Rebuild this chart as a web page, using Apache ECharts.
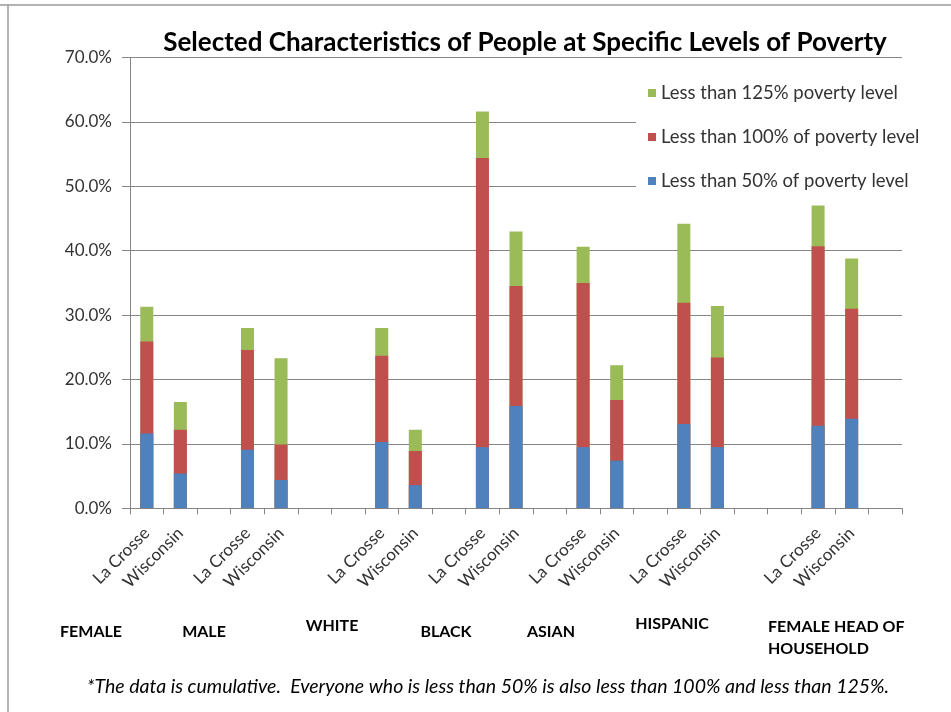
<!DOCTYPE html>
<html>
<head>
<meta charset="utf-8">
<title>Selected Characteristics of People at Specific Levels of Poverty</title>
<script src="https://cdn.jsdelivr.net/npm/echarts@6/dist/echarts.min.js"></script>
<style>
  html, body { margin: 0; padding: 0; background: #fff; }
  #chart { width: 951px; height: 712px; }
</style>
</head>
<body>
<div id="chart"></div>
<script>
// Population groups, each shown for La Crosse and for Wisconsin
const groups = ['FEMALE', 'MALE', 'WHITE', 'BLACK', 'ASIAN', 'HISPANIC', 'FEMALE HEAD OF\nHOUSEHOLD'];
const places = ['La Crosse', 'Wisconsin'];

// Cumulative shares (%) per bar, in order: group by group, La Crosse then Wisconsin
const under50  = [11.6, 5.4, 9.1, 4.4, 10.3, 3.6, 9.5, 15.9, 9.5, 7.4, 13.1, 9.5, 12.8, 13.9];
const under100 = [25.9, 12.2, 24.6, 9.9, 23.7, 8.9, 54.4, 34.5, 35.0, 16.8, 31.9, 23.4, 40.7, 31.0];
const under125 = [31.3, 16.5, 28.0, 23.3, 28.0, 12.2, 61.6, 43.0, 40.6, 22.2, 44.2, 31.4, 47.0, 38.8];

const seriesNames = [
  'Less than 125% poverty level',
  'Less than 100% of poverty level',
  'Less than 50% of poverty level'
];

// Y axis ticks
const yTicks = [0, 10, 20, 30, 40, 50, 60, 70];

// Empty category slots after each group (spacing on the axis)
const emptySlotsAfter = [1, 2, 1, 1, 1, 2, 1];

// Build the category axis with blank spacer slots
const axisCats = [];
const slotIndex = [];
groups.forEach((g, gi) => {
  places.forEach(p => { slotIndex.push(axisCats.length); axisCats.push(p); });
  for (let k = 0; k < emptySlotsAfter[gi]; k++) axisCats.push('');
});
function spread(values) {
  const out = axisCats.map(() => null);
  values.forEach((v, i) => { out[slotIndex[i]] = v; });
  return out;
}

const FONT = 'Lato, "Open Sans", sans-serif';
const colors = ['#9BBB59', '#C0504D', '#4F81BD'];
const valueSets = [under125, under100, under50];

const chart = echarts.init(document.getElementById('chart'), null, { renderer: 'canvas' });

chart.setOption({
  animation: false,
  backgroundColor: '#ffffff',
  title: {
    text: 'Selected Characteristics of People at Specific Levels of Poverty',
    left: 520,
    top: 25,
    textAlign: 'center',
    textStyle: { fontFamily: FONT, fontSize: 26, fontWeight: 'bold', color: '#000' }
  },
  legend: {
    orient: 'vertical',
    left: 636,
    top: 76,
    padding: [7, 12, 8, 12],
    backgroundColor: '#ffffff',
    itemWidth: 8,
    itemHeight: 8,
    itemGap: 24,
    icon: 'rect',
    data: seriesNames,
    textStyle: { fontFamily: FONT, fontSize: 18.5, color: '#333', lineHeight: 20 }
  },
  grid: { left: 130, right: 49, top: 57.5, bottom: 203.7, containLabel: false },
  xAxis: {
    type: 'category',
    data: axisCats,
    axisLine: { lineStyle: { color: '#868686' } },
    axisTick: { show: true, interval: 0, length: 6, lineStyle: { color: '#868686' } },
    axisLabel: {
      interval: 0, rotate: 45, margin: 22,
      fontFamily: FONT, fontSize: 17, color: '#333'
    }
  },
  yAxis: {
    type: 'value',
    min: yTicks[0],
    max: yTicks[yTicks.length - 1],
    interval: 10,
    axisLine: { show: true, lineStyle: { color: '#868686' } },
    axisTick: { show: true, length: 8, lineStyle: { color: '#868686' } },
    splitLine: { lineStyle: { color: '#868686' } },
    axisLabel: {
      margin: 18,
      formatter: v => v.toFixed(1) + '%',
      fontFamily: FONT, fontSize: 17, color: '#333'
    }
  },
  series: seriesNames.map((name, i) => ({
    name,
    type: 'bar',
    barWidth: 13,
    barGap: '-100%',
    itemStyle: { color: colors[i] },
    data: spread(valueSets[i])
  })),
  graphic: [
    // frame lines
    { type: 'line', shape: { x1: 0, y1: 5, x2: 951, y2: 5 }, style: { stroke: '#9a9a9a', lineWidth: 1.5 } },
    { type: 'line', shape: { x1: 8, y1: 5, x2: 8, y2: 712 }, style: { stroke: '#9a9a9a', lineWidth: 1.5 } },
    // group labels
    ...[
      { i: 0, x: 91, y: 632 },
      { i: 1, x: 204, y: 632 },
      { i: 2, x: 332, y: 626 },
      { i: 3, x: 446, y: 632 },
      { i: 4, x: 551, y: 632 },
      { i: 5, x: 672, y: 624 }
    ].map(o => ({
      type: 'text', x: o.x, y: o.y,
      style: {
        text: groups[o.i], fill: '#000', font: 'bold 16px ' + FONT,
        textAlign: 'center', textVerticalAlign: 'middle'
      }
    })),
    {
      type: 'text', x: 768, y: 616,
      style: {
        text: groups[6], fill: '#000', font: 'bold 16px ' + FONT,
        textAlign: 'left', textVerticalAlign: 'top', lineHeight: 22
      }
    },
    {
      type: 'text', x: 488, y: 687,
      style: {
        text: '*The data is cumulative.  Everyone who is less than 50% is also less than 100% and less than 125%.',
        fill: '#000', font: 'italic 19.5px ' + FONT,
        textAlign: 'center', textVerticalAlign: 'middle'
      }
    }
  ]
});
</script>
</body>
</html>
